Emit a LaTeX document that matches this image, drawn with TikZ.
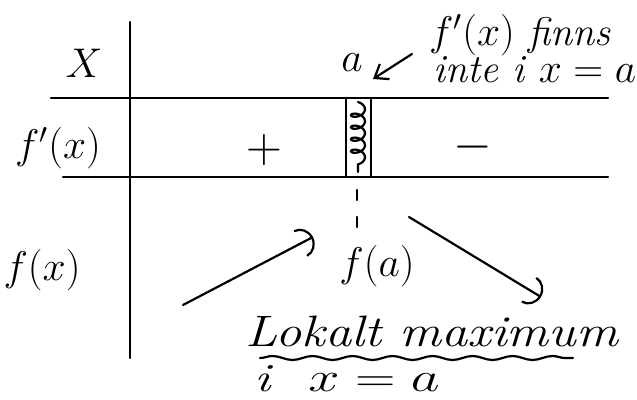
\documentclass[tikz,border=0pt]{standalone}
\usepackage{fontspec}
\usepackage{amsmath}
\usepackage{graphicx}
\usetikzlibrary{arrows.meta,decorations.pathmorphing}

\begin{document}
\begin{tikzpicture}[
  x=0.5pt, y=-0.5pt,
  hand/.style={font=\fontsize{20}{22}\selectfont\itshape, inner sep=0pt},
  big/.style={font=\fontsize{20}{22}\selectfont, inner sep=0pt},
  wavy/.style={decorate, decoration={snake, amplitude=1pt, segment length=20pt}},
  >={Arc Barb[length=7pt, width=15pt]}, line width=1.1pt, line cap=round
]
  \useasboundingbox (0,0) rectangle (637,400);

  % sign table
  \draw (130,22) -- (130,358);
  \draw (51,98) -- (608,98);
  \draw (63,177) -- (608,177);
  \draw (346,98) -- (346,177);
  \draw (371,98) -- (371,177);
  \draw[decorate, decoration={coil, aspect=0.6, amplitude=3.5pt, segment length=6pt}]
    (358,102) -- (358,172);
  \draw[dash pattern=on 5pt off 8.5pt] (357,190) -- (357,228);

  % row labels
  \node[big] (xlab) at (84,63) {$X$};
  \node[big] (fplab) at (58,148) {$f'(x)$};
  \node[big] (flab) at (42,270) {$f(x)$};

  % entries
  \node[big] (a) at (352,63) {$a$};
  \node[big, font=\fontsize{24}{26}\selectfont] (plus) at (264,150) {$+$};
  \node[big, font=\fontsize{24}{26}\selectfont] (minus) at (473,147) {$-$};
  \node[big, font=\fontsize{22}{24}\selectfont] (fa) at (377,266) {$f(a)$};

  % comments
  \node[hand] (note1) at (520,35) {$f'(x)$ finns};
  \node[hand] (note2) at (535,70) {inte i $x=a$};
  \node[hand, font=\fontsize{22}{24}\selectfont\itshape] (lok) at (432,331)
    {\scalebox{1.19}[1]{Lokalt maximum}};
  \node[hand] (ixa) at (347,379)
    {\scalebox{1.35}[1]{i \ $x=a$}};
  \draw[wavy] (260,358) -- (573,358);

  % arrows
  \coordinate (tail) at (412,54);
  \coordinate (tip) at (373,79);
  \draw[-{Straight Barb[length=6pt, width=9pt]}] (tail) -- (tip);
  \coordinate (upstart) at (183,305);
  \coordinate (upend) at (313,237);
  \draw[->] (upstart) -- (upend);
  \coordinate (downstart) at (409,217);
  \coordinate (downend) at (541,297);
  \draw[->] (downstart) -- (downend);
\end{tikzpicture}
\end{document}
